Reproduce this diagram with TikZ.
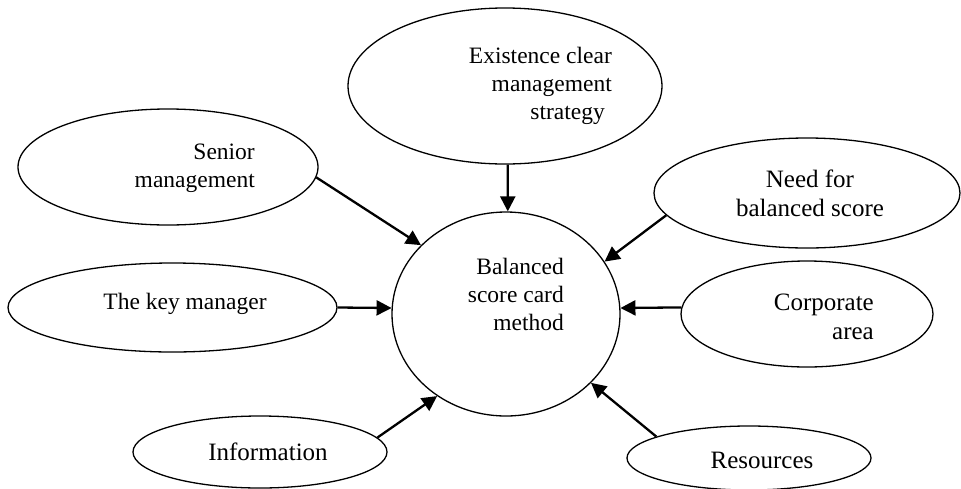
\documentclass[tikz,border=0pt]{standalone}
\usepackage{fontspec}
\setmainfont{Liberation Serif}
\usetikzlibrary{arrows.meta,shapes.geometric}
\tikzset{
  oval/.style={draw, ellipse, line width=1.3pt, inner sep=0pt, fill=white},
  tms/.style={inner sep=0pt, font=\fontsize{23.5}{28}\selectfont},
  cmb/.style={inner sep=0pt, font=\fontsize{25}{29}\selectfont},
  arr/.style={line width=2.3pt, -{Triangle[length=15pt,width=15pt]}}
}
\begin{document}
\begin{tikzpicture}[x=1pt,y=-1pt]
\useasboundingbox (0,0) rectangle (961,488);
% ovals
\node[oval, minimum width=314pt, minimum height=156pt] (T) at (505,86) {};
\node[oval, minimum width=300pt, minimum height=116pt] (S) at (168,167) {};
\node[oval, minimum width=329pt, minimum height=89pt] (K) at (172.5,307.5) {};
\node[oval, minimum width=228pt, minimum height=204pt] (C) at (506,314) {};
\node[oval, minimum width=306pt, minimum height=110pt] (N) at (807,193) {};
\node[oval, minimum width=252pt, minimum height=106pt] (A) at (807,314) {};
\node[oval, minimum width=254pt, minimum height=72pt] (I) at (260,452) {};
\node[oval, minimum width=244pt, minimum height=64pt] (R) at (749,458) {};
% texts
\node[tms, align=right, anchor=north east] (tT) at (612,47) {Existence clear\\management\\strategy\hspace*{7pt}};
\node[tms, align=right, anchor=north east] (tS) at (255,144) {Senior\\management};
\node[tms, anchor=base] (tK) at (185,309) {The key manager};
\node[tms, align=right, anchor=north east] (tC) at (564,258) {Balanced\\score card\\method};
\node[cmb, align=center, anchor=north] (tN) at (810,170) {Need for\\balanced score};
\node[cmb, align=right, anchor=north east] (tA) at (874,294) {Corporate\\area};
\node[cmb, anchor=base] (tI) at (268,460) {Information};
\node[cmb, anchor=base] (tR) at (762,468) {Resources};
% arrows
\draw[arr] (T.-88) -- (C.89);
\draw[arr] (S.-4.6) -- (C.141.3);
\draw[arr] (K.0) -- (C.177);
\draw[arr] (N.-171.2) -- (C.28.2);
\draw[arr] (A.177) -- (C.3);
\draw[arr] (I.7.2) -- (C.-130.9);
\draw[arr] (R.167.5) -- (C.-39.8);
\end{tikzpicture}
\end{document}
